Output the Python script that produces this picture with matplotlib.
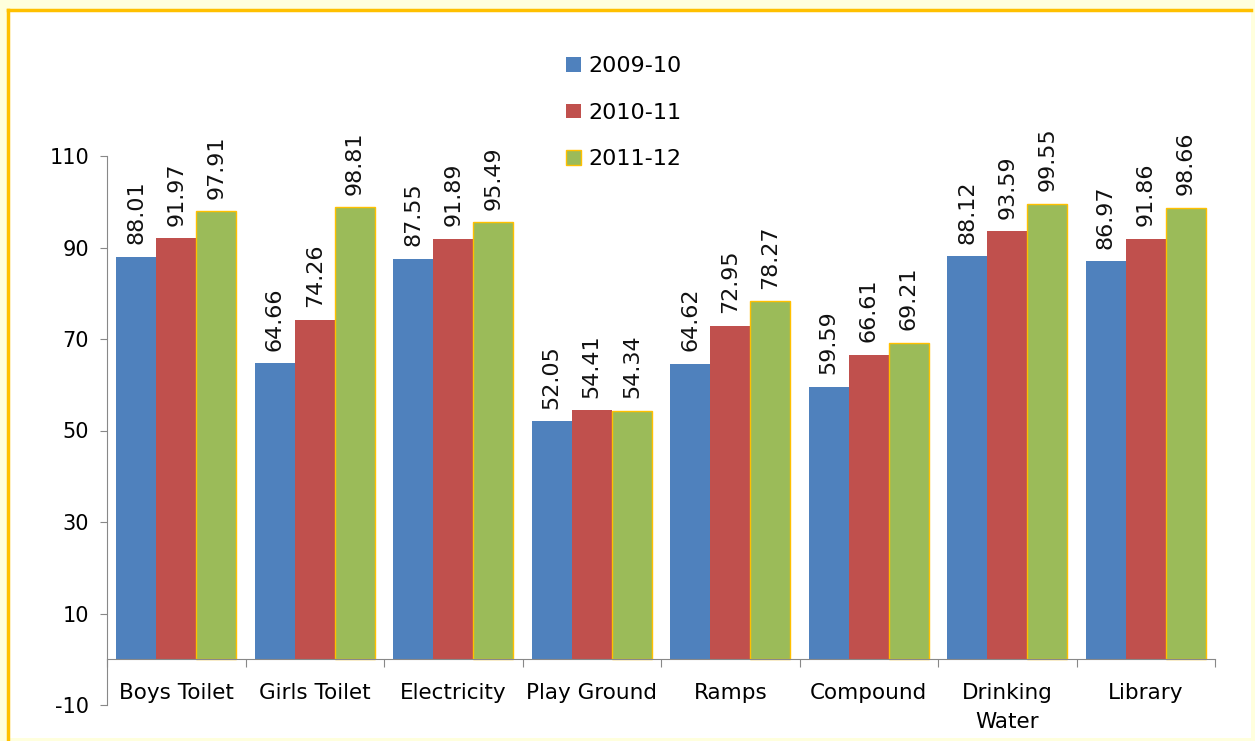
import numpy as np
import matplotlib.pyplot as plt
from matplotlib.patches import Rectangle
from matplotlib.lines import Line2D

categories = ["Boys Toilet", "Girls Toilet", "Electricity", "Play Ground",
              "Ramps", "Compound", "Drinking\nWater", "Library"]
series_names = ["2009-10", "2010-11", "2011-12"]
v_2009 = [88.01, 64.66, 87.55, 52.05, 64.62, 59.59, 88.12, 86.97]
v_2010 = [91.97, 74.26, 91.89, 54.41, 72.95, 66.61, 93.59, 91.86]
v_2011 = [97.91, 98.81, 95.49, 54.34, 78.27, 69.21, 99.55, 98.66]
yticks = [-10, 10, 30, 50, 70, 90, 110]

colors = ["#4F81BD", "#C0504D", "#9BBB59"]
edges = ["#4F81BD", "#C0504D", "#FFC000"]

plt.rcParams["font.family"] = ["DejaVu Sans"]
plt.rcParams["axes.unicode_minus"] = False

fig = plt.figure(figsize=(12.55, 7.41), dpi=100)
fig.patch.set_facecolor("#FFFFDD")

W, H = 1255, 741
# white panel with orange frame (left + top visible)
fig.patches.append(Rectangle((8 / W, 0.004), (1251 - 8) / W, 1 - 10 / H - 0.004,
                             transform=fig.transFigure, facecolor="white",
                             edgecolor="none", zorder=-5))
fig.lines.append(Line2D([8 / W, 8 / W], [0, 1 - 10 / H], transform=fig.transFigure,
                        color="#FFC000", lw=2.5, zorder=-4))
fig.lines.append(Line2D([8 / W, 1251 / W], [1 - 10 / H, 1 - 10 / H],
                        transform=fig.transFigure, color="#FFC000", lw=2.5, zorder=-4))

ax = fig.add_axes([107 / W, 1 - 705 / H, (1215 - 107) / W, (705 - 156) / H])
ax.set_facecolor("none")

x = np.arange(len(categories))
bw = 0.29
data = [v_2009, v_2010, v_2011]
for i, vals in enumerate(data):
    pos = x + (i - 1) * bw
    ax.bar(pos, vals, width=bw, color=colors[i], edgecolor=edges[i],
           linewidth=1.0 if i == 2 else 0, label=series_names[i], zorder=2)
    for px, v in zip(pos, vals):
        ax.annotate(f"{v:.2f}", (px, v), xytext=(0, 9), textcoords="offset points",
                    rotation=90, ha="center", va="bottom", fontsize=16,
                    color="#111111")

ax.set_xlim(-0.5, len(categories) - 0.5)
ax.set_ylim(-10, 110)
ax.set_yticks(yticks)
ax.tick_params(axis="y", labelsize=15, length=5, color="#888888", pad=8)

ax.spines["top"].set_visible(False)
ax.spines["right"].set_visible(False)
ax.spines["left"].set_color("#888888")
ax.spines["bottom"].set_color("#888888")
ax.spines["bottom"].set_position(("data", 0))

ax.set_xticks(np.arange(len(categories) + 1) - 0.5)
ax.set_xticklabels([])
ax.tick_params(axis="x", which="major", length=6, color="#888888", direction="out")
ax.set_xticks(x, minor=True)
ax.set_xticklabels(categories, minor=True, fontsize=15.5, linespacing=1.55)
ax.tick_params(axis="x", which="minor", length=0, pad=17)
for lbl in ax.get_xticklabels(minor=True):
    lbl.set_verticalalignment("top")

leg = fig.legend(loc="upper left", bbox_to_anchor=(555 / W, 1 - 45 / H),
                 frameon=False, fontsize=16, handlelength=0.65, handleheight=0.65,
                 handletextpad=0.35, labelspacing=1.2, borderpad=0)

fig.savefig("out.png", dpi=100, facecolor=fig.get_facecolor())
